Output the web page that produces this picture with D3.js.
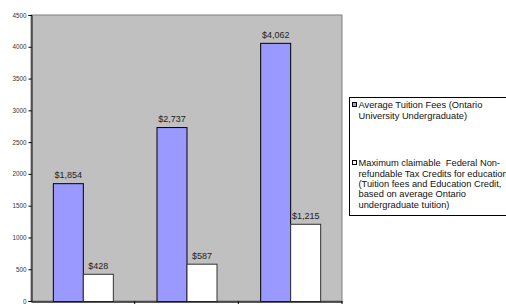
<!DOCTYPE html>
<html><head><meta charset="utf-8">
<script src="https://cdn.jsdelivr.net/npm/d3@7"></script>
<style>html,body{margin:0;padding:0;background:#fff;}svg{display:block;font-family:Arial,"Liberation Sans",sans-serif;}</style>
</head><body>
<script>
const categories = ["1990", "1995", "2000"];
const seriesNames = ["Average Tuition Fees (Ontario University Undergraduate)", "Maximum claimable  Federal Non-refundable Tax Credits for education (Tuition fees and Education Credit, based on average Ontario undergraduate tuition)"];
const tuition = [1854, 2737, 4062];
const taxCredits = [428, 587, 1215];
const yTicks = [0, 500, 1000, 1500, 2000, 2500, 3000, 3500, 4000, 4500];
const legendLines = [["Average Tuition Fees (Ontario", "University Undergraduate)"],
  ["Maximum claimable  Federal Non-", "refundable Tax Credits for education", "(Tuition fees and Education Credit,", "based on average Ontario", "undergraduate tuition)"]];

const W = 506, H = 308;
const L = 31, R = 342, T = 15, B = 301;
const svg = d3.select("body").append("svg").attr("width", W).attr("height", H);

const x = d3.scaleBand().domain(categories).range([L, R]);
const y = d3.scaleLinear().domain([0, 4500]).range([B, T]);
const inner = d3.scaleBand().domain([0, 1]).range([0, 60]);

svg.append("rect").attr("x", L).attr("y", T).attr("width", R - L).attr("height", B - T)
  .attr("fill", "#C0C0C0").attr("stroke", "#808080").attr("stroke-width", 1);

const series = [tuition, taxCredits];
const fills = ["#9999FF", "#FFFFFF"];
const strokes = ["#000000", "#333333"];
series.forEach((vals, si) => {
  const g = svg.append("g");
  g.selectAll("rect").data(vals).join("rect")
    .attr("x", (d, i) => x(categories[i]) + x.bandwidth() / 2 - 30 + inner(si) + 0.5)
    .attr("y", d => y(d) + 0.5)
    .attr("width", inner.bandwidth())
    .attr("height", d => B - y(d))
    .attr("fill", fills[si]).attr("stroke", strokes[si]).attr("stroke-width", 1);
  g.selectAll("text").data(vals).join("text")
    .attr("x", (d, i) => x(categories[i]) + x.bandwidth() / 2 - 30 + inner(si) + inner.bandwidth() / 2 + 0.5)
    .attr("y", d => y(d) - 5)
    .attr("text-anchor", "middle").attr("font-size", 9).attr("fill", "#222")
    .text(d => "$" + d3.format(",")(d));
});

// Y axis
const yAxis = svg.append("g").attr("transform", `translate(${L + 0.5},0)`)
  .call(d3.axisLeft(y).tickValues(yTicks).tickSize(3).tickPadding(2).tickFormat(d3.format("d")));
yAxis.select(".domain").attr("stroke", "#000");
yAxis.selectAll(".tick line").attr("stroke", "#000");
yAxis.selectAll("text").attr("font-size", 6.3).attr("fill", "#333").attr("font-family", "Arial, 'Liberation Sans', sans-serif");

// X axis
const xAxis = svg.append("g").attr("transform", `translate(0,${B + 0.5})`)
  .call(d3.axisBottom(x).tickSize(0).tickPadding(7));
xAxis.select(".domain").attr("stroke", "#222").attr("stroke-width", 1.5);
xAxis.selectAll("text").attr("font-size", 6).attr("fill", "#ddd").attr("font-family", "Arial, 'Liberation Sans', sans-serif");
// boundary ticks
svg.append("g").selectAll("line").data(categories).join("line")
  .attr("x1", d => x(d) + x.bandwidth()).attr("x2", d => x(d) + x.bandwidth())
  .attr("y1", B).attr("y2", B + 3).attr("stroke", "#000");

// Legend
const lg = svg.append("g");
lg.append("rect").attr("x", 349.5).attr("y", 97.5).attr("width", 170).attr("height", 118)
  .attr("fill", "#fff").attr("stroke", "#000");
const itemY = [105, 163];
legendLines.forEach((lines, i) => {
  lg.append("rect").attr("x", 352.5).attr("y", itemY[i] - 2.5).attr("width", 4).attr("height", 4)
    .attr("fill", fills[i]).attr("stroke", "#000").attr("stroke-width", 1);
  lines.forEach((t, j) => {
    lg.append("text").attr("x", 358.5).attr("y", itemY[i] + 3.2 + j * 10.4)
      .attr("font-size", 9.3).attr("fill", "#111").style("white-space", "pre").text(t);
  });
});
</script>
</body></html>
